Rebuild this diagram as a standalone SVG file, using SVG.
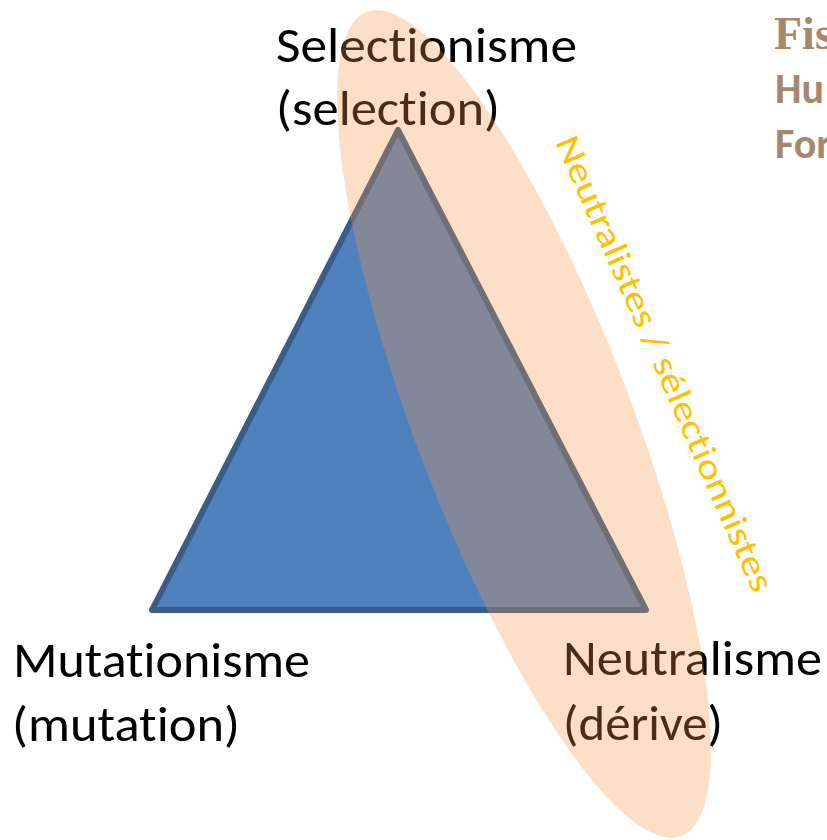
<svg xmlns="http://www.w3.org/2000/svg" width="827" height="840" viewBox="0 0 827 840">
<style>
text{font-variant-ligatures:none;font-feature-settings:"liga" 0,"dlig" 0}
.lbl{font-family:Carlito,Lato,"Liberation Sans",sans-serif;font-size:49px;fill:#000}
.side{font-family:Carlito,Lato,"Liberation Sans",sans-serif;font-size:35px;fill:#FFC000}
.hdr{fill:#A5876C;font-weight:bold}
</style>
<rect width="827" height="840" fill="#fff"/>
<g id="triangle">
<polygon points="398,130 152,610 646,610" fill="#4F81BD" stroke="#385D8A" stroke-width="6" stroke-linejoin="round"/>
</g>
<g id="node-selection">
<text class="lbl" x="276" y="62" textLength="301" lengthAdjust="spacingAndGlyphs">Selectionisme</text>
<text class="lbl" x="276" y="125" textLength="224" lengthAdjust="spacingAndGlyphs">(selection)</text>
</g>
<g id="node-mutation">
<text class="lbl" x="13" y="677" textLength="297" lengthAdjust="spacingAndGlyphs">Mutationisme</text>
<text class="lbl" x="12" y="741" textLength="228" lengthAdjust="spacingAndGlyphs">(mutation)</text>
</g>
<g id="node-neutral">
<text class="lbl" x="563" y="675" textLength="259" lengthAdjust="spacingAndGlyphs">Neutralisme</text>
<text class="lbl" x="563" y="740" textLength="160" lengthAdjust="spacingAndGlyphs">(dérive)</text>
</g>
<g id="header">
<text class="hdr" x="774" y="49" font-family="'Liberation Serif',serif" font-size="46">Fis</text>
<text class="hdr" x="775" y="103" font-family="Carlito,Lato,'Liberation Sans',sans-serif" font-size="42">Hu</text>
<text class="hdr" x="775" y="158" font-family="Carlito,Lato,'Liberation Sans',sans-serif" font-size="42">For</text>
</g>
<g id="ellipse-group">
<ellipse cx="524" cy="424" rx="108" ry="441" transform="rotate(-20.9 524 424)" fill="#F79646" fill-opacity="0.3"/>
</g>
<g id="side-label">
<text class="side" x="555" y="142" transform="rotate(66.3 555 142)" textLength="494" lengthAdjust="spacingAndGlyphs">Neutralistes / sélectionnistes</text>
</g>
</svg>
